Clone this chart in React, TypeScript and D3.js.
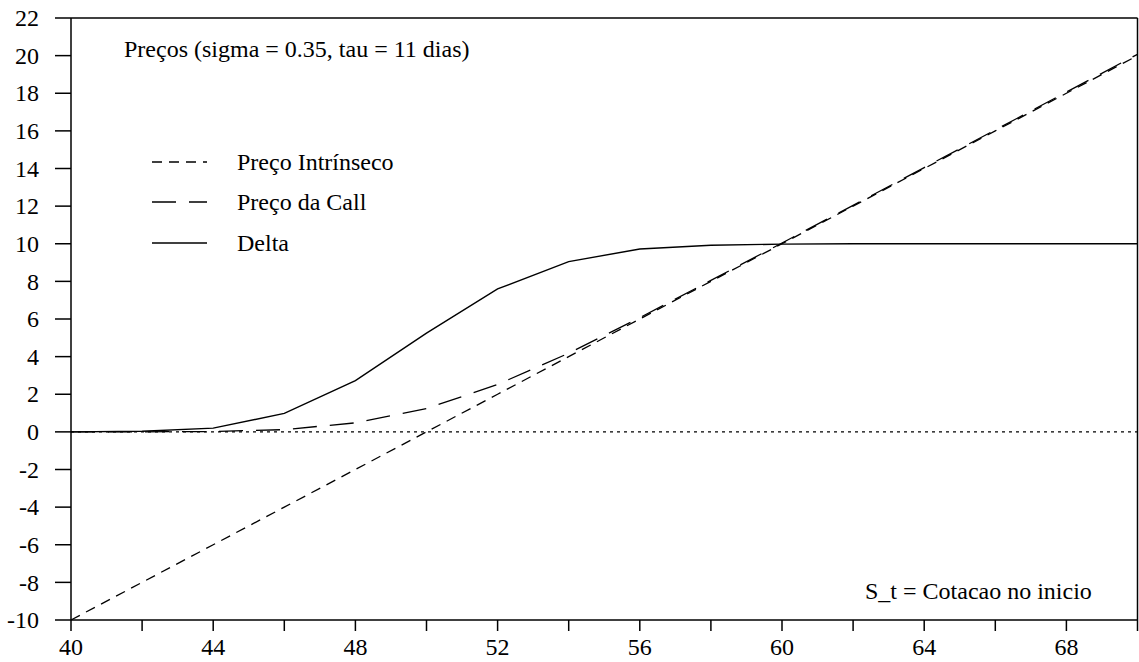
import React from "react";
import * as d3 from "d3";

const spot = [40, 42, 44, 46, 48, 50, 52, 54, 56, 58, 60, 62, 64, 66, 68, 70];
const intrinsic = [-10, -8, -6, -4, -2, 0, 2, 4, 6, 8, 10, 12, 14, 16, 18, 20];
const callPrice = [0, 0.002, 0.02, 0.12, 0.48, 1.24, 2.52, 4.18, 6.07, 8.05, 10.04, 12.04, 14.05, 16.05, 18.06, 20.07];
const delta = [0, 0.03, 0.2, 0.98, 2.72, 5.25, 7.6, 9.05, 9.72, 9.92, 9.98, 10, 10, 10, 10, 10];
const xTicks = [40, 42, 44, 46, 48, 50, 52, 54, 56, 58, 60, 62, 64, 66, 68, 70];
const xLabels = [40, 44, 48, 52, 56, 60, 64, 68];
const yTicks = [-10, -8, -6, -4, -2, 0, 2, 4, 6, 8, 10, 12, 14, 16, 18, 20, 22];
const legendItems = ["Preço Intrínseco", "Preço da Call", "Delta"];
const title = "Preços (sigma = 0.35, tau = 11 dias)";
const note = "S_t = Cotacao no inicio";

const W = 1139, H = 662;
const L = 71, R = 1137.5, T = 18, B = 620;
const font = "'Liberation Serif', 'Times New Roman', serif";
const FS = 24;

export default function App() {
  const x = d3.scaleLinear().domain([40, 70]).range([L, R]);
  const y = d3.scaleLinear().domain([-10, 22]).range([B, T]);
  const line = d3.line<[number, number]>().x(d => x(d[0])).y(d => y(d[1]));
  const pts = (vals: number[]) => spot.map((s, i) => [s, vals[i]] as [number, number]);
  const dashes = ["10,7", "24,13", ""];
  const legendY = [162, 202, 243];
  return (
    <svg width={W} height={H} style={{ position: "absolute", left: 0, top: 0, background: "#fff" }} fontFamily={font}>
      <rect x={0} y={0} width={W} height={H} fill="#fff" />
      {/* zero reference */}
      <line x1={x(40)} x2={x(70)} y1={y(0)} y2={y(0)} stroke="#000" strokeWidth={1.3} strokeDasharray="3,4" />
      <path d={line(pts(intrinsic))!} fill="none" stroke="#000" strokeWidth={1.3} strokeDasharray={dashes[0]} />
      <path d={line(pts(callPrice))!} fill="none" stroke="#000" strokeWidth={1.3} strokeDasharray={dashes[1]} />
      <path d={line(pts(delta))!} fill="none" stroke="#000" strokeWidth={1.4} />
      {/* frame */}
      <line x1={L} x2={R} y1={T} y2={T} stroke="#000" strokeWidth={1.5} />
      <line x1={R} x2={R} y1={T} y2={B} stroke="#000" strokeWidth={1.5} />
      <line x1={L} x2={L} y1={T} y2={B} stroke="#000" strokeWidth={1.5} />
      <line x1={L} x2={R} y1={B} y2={B} stroke="#000" strokeWidth={1.5} />
      {yTicks.map(t => (
        <g key={"y" + t}>
          <line x1={L - 16} x2={L} y1={y(t)} y2={y(t)} stroke="#000" strokeWidth={1.5} />
          <text x={39} y={y(t)} dy="0.34em" textAnchor="end" fontSize={FS}>{t}</text>
        </g>
      ))}
      {xTicks.map(t => (
        <line key={"x" + t} x1={x(t)} x2={x(t)} y1={B} y2={B + 11} stroke="#000" strokeWidth={1.5} />
      ))}
      {xLabels.map(t => (
        <text key={"xl" + t} x={x(t)} y={655} textAnchor="middle" fontSize={FS}>{t}</text>
      ))}
      <text x={124} y={56.5} fontSize={FS}>{title}</text>
      {legendItems.map((name, i) => (
        <g key={name}>
          <line x1={152} x2={207} y1={legendY[i]} y2={legendY[i]} stroke="#000" strokeWidth={1.3} strokeDasharray={dashes[i] || undefined} />
          <text x={237} y={legendY[i]} dy="0.34em" fontSize={FS}>{name}</text>
        </g>
      ))}
      <text x={865} y={599} fontSize={FS}>{note}</text>
    </svg>
  );
}
